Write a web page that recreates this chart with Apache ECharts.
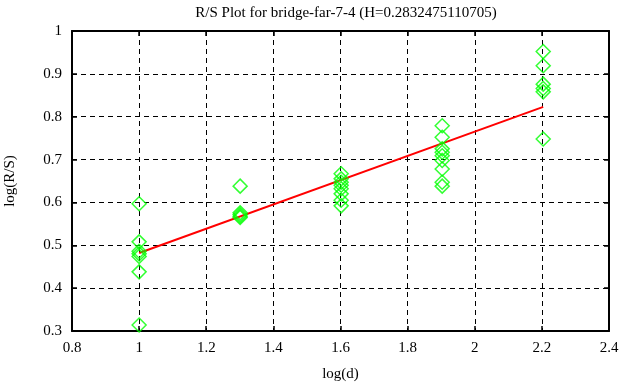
<!DOCTYPE html>
<html><head><meta charset="utf-8">
<script src="https://cdn.jsdelivr.net/npm/echarts@6/dist/echarts.min.js"></script>
<style>html,body{margin:0;padding:0;background:#fff}#c{width:626px;height:387px}</style>
</head><body><div id="c"></div>
<script>
const xTicks = [0.8, 1, 1.2, 1.4, 1.6, 1.8, 2, 2.2, 2.4];
const yTicks = [0.3, 0.4, 0.5, 0.6, 0.7, 0.8, 0.9, 1];
const groupX = [1, 1.301, 1.602, 1.903, 2.204];
const groupY = [
  [0.597, 0.508, 0.486, 0.480, 0.474, 0.438, 0.314],
  [0.638, 0.576, 0.572, 0.568, 0.565],
  [0.667, 0.655, 0.647, 0.640, 0.632, 0.620, 0.605, 0.592],
  [0.779, 0.752, 0.725, 0.717, 0.709, 0.698, 0.678, 0.647, 0.638],
  [0.952, 0.919, 0.876, 0.866, 0.858, 0.748]
];
const fitX = [1, 2.204];
const fitY = [0.482, 0.823];

const points = [];
groupX.forEach((x, i) => groupY[i].forEach(y => points.push([x, y])));

const font = '"Liberation Serif", "DejaVu Serif", serif';
const dashed = {show: true, lineStyle: {color: '#000', type: [5, 4], width: 1}};
const chart = echarts.init(document.getElementById('c'), null, {renderer: 'canvas'});
chart.setOption({
  animation: false,
  title: {text: 'R/S Plot for bridge-far-7-4 (H=0.2832475110705)', left: 341, textAlign: 'center', top: 1,
    textStyle: {fontFamily: font, fontSize: 15, fontWeight: 'normal', color: '#000'}},
  grid: {left: 72, right: 17, top: 31, bottom: 56, containLabel: false, outerBoundsMode: 'none'},
  xAxis: [{
    type: 'value', min: xTicks[0], max: xTicks[xTicks.length - 1], interval: 0.2,
    name: 'log(d)', nameLocation: 'middle', nameGap: 36,
    nameTextStyle: {fontFamily: font, fontSize: 15, color: '#000'},
    axisLine: {lineStyle: {color: '#000', width: 2}},
    axisTick: {inside: true, length: 5, lineStyle: {color: '#000', width: 1.5}},
    axisLabel: {fontFamily: font, fontSize: 15, color: '#000', margin: 10},
    splitLine: dashed
  }, {
    type: 'value', position: 'top', min: xTicks[0], max: xTicks[xTicks.length - 1], interval: 0.2,
    axisLine: {show: true, lineStyle: {color: '#000', width: 2}},
    axisTick: {inside: true, length: 5, lineStyle: {color: '#000', width: 1.5}},
    axisLabel: {show: false}, splitLine: {show: false}
  }],
  yAxis: [{
    type: 'value', min: yTicks[0], max: yTicks[yTicks.length - 1], interval: 0.1,
    name: 'log(R/S)', nameLocation: 'middle', nameGap: 54,
    nameTextStyle: {fontFamily: font, fontSize: 15, color: '#000'},
    axisLine: {show: true, lineStyle: {color: '#000', width: 2}},
    axisTick: {show: true, inside: true, length: 5, lineStyle: {color: '#000', width: 1.5}},
    axisLabel: {fontFamily: font, fontSize: 15, color: '#000', margin: 10},
    splitLine: dashed
  }, {
    type: 'value', position: 'right', min: yTicks[0], max: yTicks[yTicks.length - 1], interval: 0.1,
    axisLine: {show: true, lineStyle: {color: '#000', width: 2}},
    axisTick: {show: true, inside: true, length: 5, lineStyle: {color: '#000', width: 1.5}},
    axisLabel: {show: false}, splitLine: {show: false}
  }],
  series: [{
    type: 'line', data: fitX.map((x, i) => [x, fitY[i]]), symbol: 'none',
    lineStyle: {color: '#ff0000', width: 2}, z: 3
  }, {
    type: 'scatter', data: points, symbol: 'diamond', symbolSize: 14,
    itemStyle: {color: 'rgba(0,0,0,0)', borderColor: '#00ff00', borderWidth: 1.5}, z: 4
  }]
});
</script></body></html>
